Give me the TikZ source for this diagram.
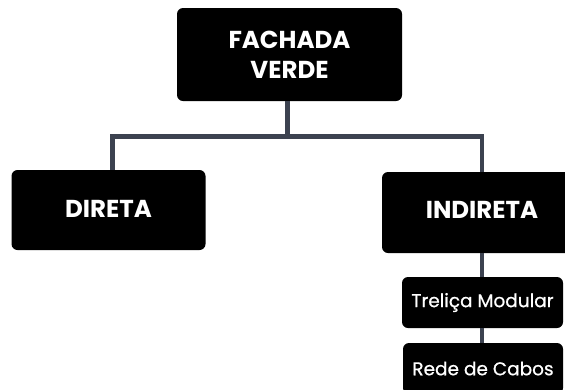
\documentclass[tikz,border=0pt]{standalone}
\usepackage{fontspec}
\setmainfont{Poppins}
\newfontfamily\medfont{Poppins}[FakeBold=0.7]
\definecolor{linec}{RGB}{60,66,80}
\begin{document}
\begin{tikzpicture}[x=1pt,y=-1pt,
  box/.style={fill=black,rounded corners=6pt,text=white,align=center,inner sep=0pt},
  bigtxt/.style={font=\fontsize{24.5}{30}\selectfont\bfseries},
  smalltxt/.style={font=\fontsize{18.5}{22}\medfont},
  conn/.style={draw=linec,line width=4.5pt,line join=miter}]
\useasboundingbox (0,0) rectangle (565,389);
\clip (0,0) rectangle (565,389);
\node[box,bigtxt,minimum width=225pt,minimum height=93pt] (top) at (289.5,54.5) {FACHADA\\VERDE};
\node[box,bigtxt,minimum width=194pt,minimum height=80pt] (direta) at (108.5,210) {\raisebox{3pt}{DIRETA}};
\node[box,bigtxt,minimum width=200pt,minimum height=81pt] (indireta) at (482,212.5) {\raisebox{5pt}{INDIRETA}};
\node[box,smalltxt,minimum width=161pt,minimum height=51pt] (trelica) at (482.5,302.5) {Treliça Modular};
\node[box,smalltxt,minimum width=160pt,minimum height=51pt] (rede) at (483,368.5) {Rede de Cabos};
\coordinate (hub) at (287.5,136.5);
\coordinate (lj) at (112.5,136.5);
\coordinate (rj) at (482,136.5);
\draw[conn] (top.south -| hub) -- (hub);
\draw[conn] (direta.north -| lj) -- (lj) -- (rj) -- (indireta.north -| rj);
\draw[conn] (indireta.south) -- (indireta.south |- trelica.north);
\draw[conn] (trelica.south -| indireta.south) -- (indireta.south |- rede.north);
\end{tikzpicture}
\end{document}
